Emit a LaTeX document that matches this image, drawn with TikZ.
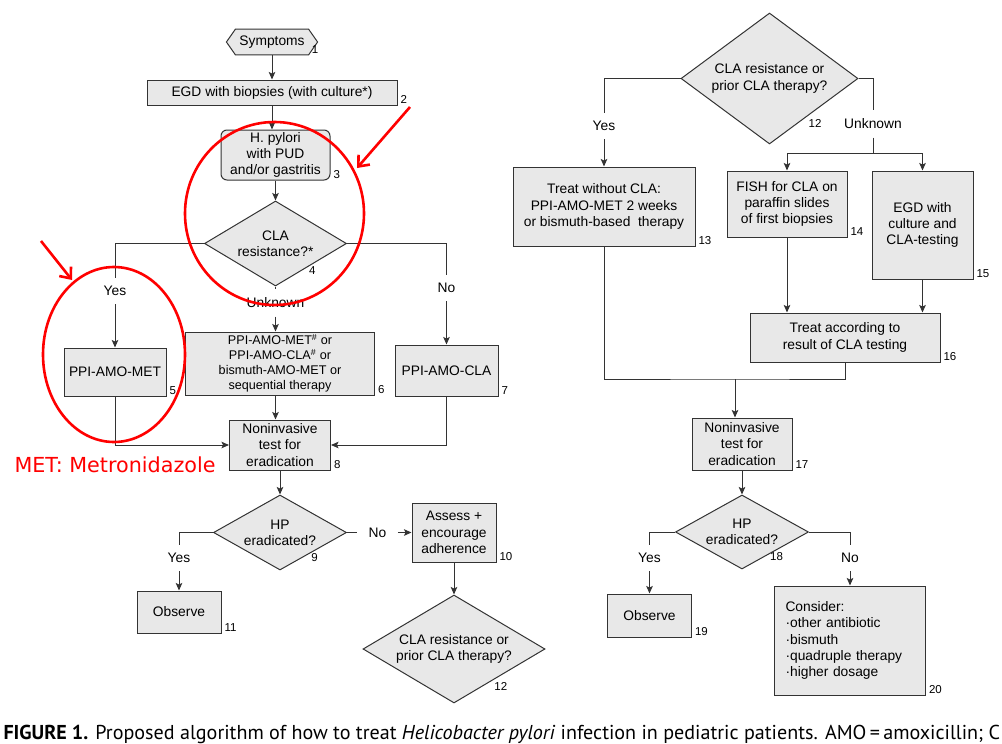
\documentclass[tikz,border=0pt]{standalone}
\usepackage{fontspec}
\setmainfont{Liberation Sans}
\newfontfamily\notefont{DejaVu Sans}
\newfontfamily\capfont{PT Sans}
\usetikzlibrary{positioning, shapes.geometric, shapes.symbols, arrows.meta}

\begin{document}
\begin{tikzpicture}[x=1pt, y=-1pt, node distance=50pt and 50pt, on grid, line width=1pt,
    proc/.style={rectangle, draw=black!80, fill=black!9, inner sep=0pt, align=center,
        font=\fontsize{13.8}{16.3}\selectfont},
    decision/.style={diamond, aspect=1.75, draw=black!80, fill=black!9, inner sep=0pt, align=center,
        font=\fontsize{13.8}{16.3}\selectfont},
    branch/.style={inner xsep=2pt, inner ysep=8pt, font=\fontsize{13.8}{16}\selectfont},
    num/.style={inner sep=1.5pt, xshift=1pt, font=\fontsize{11.5}{12}\selectfont},
    arr/.style={draw=black!80, -{Stealth[length=7.5pt, width=6.5pt, inset=1.5pt]}},
    link/.style={draw=black!80},
    redmark/.style={draw=red, line width=2.6pt}]

    \path[use as bounding box, fill=white] (0,0) rectangle (1002,744);

    % Nodes (left)
    \node[signal, signal to=west and east, signal pointer angle=110, draw=black!80, fill=black!9,
        inner xsep=4pt, inner ysep=6.6pt, font=\fontsize{13.8}{16}\selectfont] (sym) at (272,42) {Symptoms};
    \node[proc, minimum width=250pt, minimum height=25pt] (egd) [below=50.5pt of sym] {EGD with biopsies (with culture*)};
    \node[proc, rounded corners=6pt, minimum width=109pt, minimum height=50pt] (hp) [below right=62.5pt and 3.5pt of egd] {H. pylori\\with PUD\\and/or gastritis};
    \node[decision, aspect=1.67, minimum width=142pt, minimum height=85pt] (cla) [below=88.5pt of hp] {CLA\\resistance?*};
    \node[branch] (unk) [below=59.5pt of cla] {Unknown};
    \node[proc, minimum width=189pt, minimum height=63pt, font=\fontsize{12.6}{15}\selectfont] (combo) [below right=60.5pt and 4.5pt of unk]
        {PPI-AMO-MET\textsuperscript{\#} or\\PPI-AMO-CLA\textsuperscript{\#} or\\bismuth-AMO-MET or\\sequential therapy};
    \node[proc, minimum width=102pt, minimum height=48pt] (met) [below left=8.5pt and 165pt of combo] {PPI-AMO-MET};
    \node[branch] (yes) [above=81pt of met] {Yes};
    \node[proc, minimum width=103pt, minimum height=51pt] (clar) [below right=7pt and 166.5pt of combo] {PPI-AMO-CLA};
    \node[branch] (no) [above=82.5pt of clar] {No};
    \node[proc, minimum width=101pt, minimum height=50pt] (test) [below=81.5pt of combo] {Noninvasive\\test for\\eradication};
    \node[decision, aspect=1.77, minimum width=133pt, minimum height=75pt] (erad) [below=87.5pt of test] {HP\\eradicated?};
    \node[proc, minimum width=84pt, minimum height=59pt] (assess) [right=174pt of erad] {Assess +\\encourage\\adherence};
    \node[branch, inner xsep=11pt] (noerad) [left=76.5pt of assess] {No};
    \node[proc, minimum width=84pt, minimum height=42pt] (obs) [below left=79.5pt and 101pt of erad] {Observe};
    \node[branch] (yeserad) [above=54pt of obs] {Yes};
    \node[decision, aspect=1.69, minimum width=182pt, minimum height=108pt] (prior) [below=116.5pt of assess] {CLA resistance or\\prior CLA therapy?};

    % Nodes (right)
    \node[decision, aspect=1.35, minimum width=177pt, minimum height=131pt] (prior2) at (769.5,78.5) {CLA resistance or\\prior CLA therapy?};
    \node[proc, minimum width=182pt, minimum height=79pt] (nocla) [below left=128pt and 165.5pt of prior2]
        {Treat without CLA:\\PPI-AMO-MET 2 weeks\\or bismuth-based~ therapy};
    \node[branch] (yes2) [above=80.5pt of nocla] {Yes};
    \node[branch] (unk2) [below right=45.5pt and 103.5pt of prior2] {Unknown};
    \coordinate[below=29pt of unk2] (split);
    \node[proc, minimum width=120pt, minimum height=66pt] (fish) [below right=125.5pt and 17.5pt of prior2] {FISH for CLA on\\paraffin slides\\of first biopsies};
    \node[proc, minimum width=101pt, minimum height=108pt] (egd2) [below right=146.5pt and 153pt of prior2] {EGD with\\culture and\\CLA-testing};
    \node[proc, minimum width=190pt, minimum height=49pt] (result) [below right=133.5pt and 58pt of fish] {Treat according to\\result of CLA testing};
    \node[proc, minimum width=100pt, minimum height=52pt] (test2) [below left=106.5pt and 103pt of result] {Noninvasive\\test for\\eradication};
    \coordinate[above left=65pt and 7pt of test2] (merge);
    \node[decision, aspect=1.8, minimum width=133pt, minimum height=74pt] (erad2) [below=88pt of test2] {HP\\eradicated?};
    \node[proc, minimum width=84pt, minimum height=43pt] (obs2) [below left=83.5pt and 92.5pt of erad2] {Observe};
    \node[branch] (yes3) [above=57.5pt of obs2] {Yes};
    \node[proc, minimum width=151pt, minimum height=109pt, inner xsep=11pt, text width=129pt, align=left] (other)
        [below right=108.5pt and 108pt of erad2]
        {Consider:\\·other antibiotic\\·bismuth\\·quadruple therapy\\·higher dosage};
    \node[branch] (no3) [above=82.5pt of other] {No};

    % Step numbers
    \node[num, anchor=south west] at (sym.south east) {1};
    \node[num, anchor=south west] at (egd.south east) {2};
    \node[num, anchor=south west] at (hp.south east) {3};
    \node[num, anchor=north] at (cla.south east) {4};
    \node[num, anchor=south west] at (met.south east) {5};
    \node[num, anchor=south west] at (combo.south east) {6};
    \node[num, anchor=south west] at (clar.south east) {7};
    \node[num, anchor=south west] at (test.south east) {8};
    \node[num, anchor=north] at (erad.south east) {9};
    \node[num, anchor=south west] at (assess.south east) {10};
    \node[num, anchor=south west] at (obs.south east) {11};
    \node[num, anchor=north, yshift=-4pt] at (prior.south east) {12};
    \node[num, anchor=north, yshift=-6pt] at (prior2.south east) {12};
    \node[num, anchor=south west] at (nocla.south east) {13};
    \node[num, anchor=south west] at (fish.south east) {14};
    \node[num, anchor=south west] at (egd2.south east) {15};
    \node[num, anchor=south west] at (result.south east) {16};
    \node[num, anchor=south west] at (test2.south east) {17};
    \node[num, anchor=north] at (erad2.south east) {18};
    \node[num, anchor=south west] at (obs2.south east) {19};
    \node[num, anchor=south west] at (other.south east) {20};

    % Edges (left)
    \draw[arr] (sym.south) -- (sym.south |- egd.north);
    \draw[arr] (egd.south) -- (egd.south |- hp.north);
    \draw[arr] (hp) -- (cla);
    \draw[link] (cla.west) -| (yes.north);
    \draw[arr] (yes) -- (met);
    \draw[link] (cla.south) -- (unk.north);
    \draw[arr] (unk.south) -- (unk.south |- combo.north);
    \draw[link] (cla.east) -| (no.north);
    \draw[arr] (no) -- (clar);
    \draw[arr] (met.south) |- (test.west);
    \draw[arr] (clar.south) |- (test.east);
    \draw[arr] (unk.south |- combo.south) -- (unk.south |- test.north);
    \draw[arr] (test) -- (erad);
    \draw[link] (erad.west) -| (yeserad.north);
    \draw[arr] (yeserad) -- (obs);
    \draw[link] (erad.east) -- (noerad.west);
    \draw[arr] (noerad.east) -- (assess.west);
    \draw[arr] (assess) -- (prior);

    % Edges (right)
    \draw[link] (prior2.west) -| (yes2.north);
    \draw[arr] (yes2) -- (nocla);
    \draw[link] (prior2.east) -| (unk2.north);
    \draw[link] (unk2.south) -- (split);
    \draw[arr] (split) -| (fish.north);
    \draw[arr] (split) -| (egd2.north);
    \draw[arr] (fish.south) -- (fish.south |- result.north);
    \draw[arr] (egd2.south) -- (egd2.south |- result.north);
    \draw[link] (nocla.south) |- (merge) -| (result.south);
    \draw[arr] (merge) -- (merge |- test2.north);
    \draw[arr] (test2) -- (erad2);
    \draw[link] (erad2.west) -| (yes3.north);
    \draw[arr] (yes3) -- (obs2);
    \draw[link] (erad2.east) -| (no3.north);
    \draw[arr] (no3) -- (other);

    % Red marks
    \coordinate (ring) at (274.5,213.5);
    \coordinate (oval) at (114,354.5);
    \draw[redmark] (ring) ellipse [x radius=89.5pt, y radius=91.5pt];
    \draw[redmark] (oval) ellipse [x radius=71pt, y radius=87.5pt];
    \coordinate (tail1) at (410,107);
    \coordinate (tip1) at (357,168);
    \coordinate (tail2) at (41,241);
    \coordinate (tip2) at (72,280);
    \draw[redmark, -{Straight Barb[length=9pt, width=15pt]}] (tail1) -- (tip1);
    \draw[redmark, -{Straight Barb[length=9pt, width=15pt]}] (tail2) -- (tip2);
    \node[anchor=west, text=red, inner sep=0pt, font=\notefont\fontsize{20.7}{22}\selectfont] (note) at (14,465) {MET: Metronidazole};

    % Caption
    \node[anchor=base west, inner sep=0pt, font=\capfont\fontsize{20.1}{22}\selectfont] (cap) at (3,739)
        {\textbf{FIGURE 1.} Proposed algorithm of how to treat \textit{Helicobacter pylori} infection in pediatric patients. AMO\,=\,amoxicillin; C};

\end{tikzpicture}
\end{document}
